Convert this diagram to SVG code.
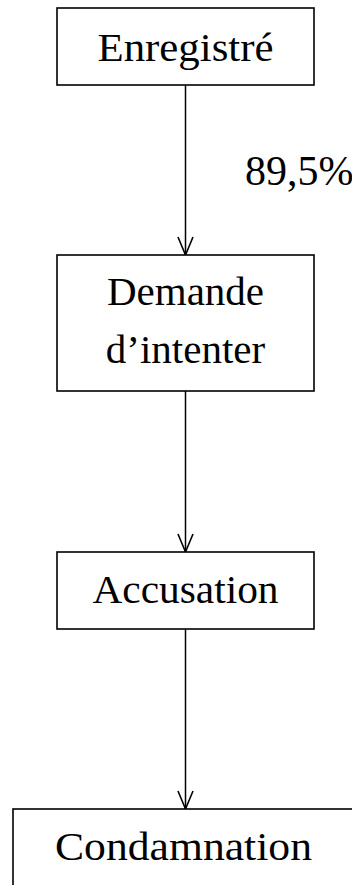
<svg xmlns="http://www.w3.org/2000/svg" width="352" height="885" viewBox="0 0 352 885">
<style>
.box{fill:#fff;stroke:#000;stroke-width:1.6}
.t{font-family:"Liberation Serif","Times New Roman",serif;font-size:41px;fill:#000;text-anchor:middle}
.lbl{font-family:"Liberation Serif","Times New Roman",serif;font-size:42px;fill:#000}
.c{stroke:#000;stroke-width:1.5;fill:none}
</style>
<defs>
<marker id="ah" markerWidth="24" markerHeight="20" refX="20" refY="10" orient="auto" markerUnits="userSpaceOnUse" viewBox="0 0 24 20">
<path d="M2,2.5 L20,10 L2,17.5" fill="none" stroke="#000" stroke-width="1.6"/>
</marker>
</defs>
<rect width="352" height="885" fill="#fff"/>
<g id="connectors">
<line class="c" x1="185.5" y1="85" x2="185.5" y2="255" marker-end="url(#ah)"/>
<line class="c" x1="185.5" y1="391" x2="185.5" y2="552" marker-end="url(#ah)"/>
<line class="c" x1="185.5" y1="629" x2="185.5" y2="809" marker-end="url(#ah)"/>
<text class="lbl" x="245" y="185" font-family="Liberation Serif, serif">89,5%</text>
</g>
<g id="n1">
<rect class="box" x="57" y="8" width="257" height="77"/>
<text class="t" x="185.5" y="61" textLength="176" lengthAdjust="spacingAndGlyphs">Enregistré</text>
</g>
<g id="n2">
<rect class="box" x="57" y="255" width="257" height="136"/>
<text class="t" x="185.5" y="305">Demande</text>
<text class="t" x="185.5" y="363">d’intenter</text>
</g>
<g id="n3">
<rect class="box" x="57" y="552" width="257" height="77"/>
<text class="t" x="185.5" y="603" textLength="186" lengthAdjust="spacingAndGlyphs">Accusation</text>
</g>
<g id="n4">
<rect class="box" x="13" y="809" width="345" height="90"/>
<text class="t" x="183.5" y="860" textLength="257" lengthAdjust="spacingAndGlyphs">Condamnation</text>
</g>
</svg>
